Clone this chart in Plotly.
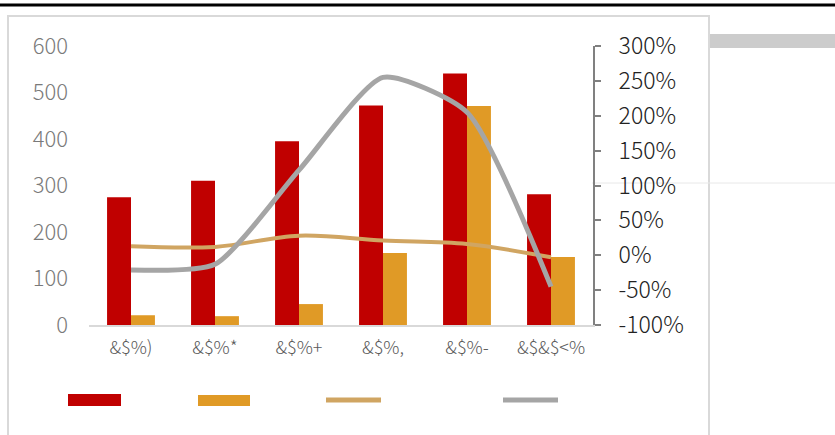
import plotly.graph_objects as go

categories = ["&$%)", "&$%*", "&$%+", "&$%,", "&$%-", "&$&$<%"]
red_values = [275, 310, 395, 472, 541, 281]
orange_values = [21, 19, 45, 155, 471, 146]
tan_growth = [0.13, 0.12, 0.28, 0.21, 0.16, -0.03]
gray_growth = [-0.21, -0.13, 1.22, 2.55, 2.05, -0.45]
left_ticks = [0, 100, 200, 300, 400, 500, 600]
right_ticks = [-1.0, -0.5, 0.0, 0.5, 1.0, 1.5, 2.0, 2.5, 3.0]
right_labels = ["-100%", "-50%", "0%", "50%", "100%", "150%", "200%", "250%", "300%"]

RED = "#C00000"
ORANGE = "#E09A26"
TAN = "#D0A562"
GRAY = "#A5A5A5"

W, H = 835, 435
def px(x): return x / W
def py(y): return 1 - y / H

fig = go.Figure()
fig.add_trace(go.Bar(x=categories, y=red_values, marker=dict(color=RED, line=dict(width=0)), showlegend=False))
fig.add_trace(go.Bar(x=categories, y=orange_values, marker=dict(color=ORANGE, line=dict(width=0)), showlegend=False))
fig.add_trace(go.Scatter(x=categories, y=tan_growth, yaxis="y2", mode="lines",
                         line=dict(color=TAN, width=4, shape="spline", smoothing=1.0), showlegend=False))
fig.add_trace(go.Scatter(x=categories, y=gray_growth, yaxis="y2", mode="lines",
                         line=dict(color=GRAY, width=5, shape="spline", smoothing=0.6), showlegend=False))

shapes = [
    dict(type="line", xref="paper", yref="paper", x0=0, x1=1, y0=py(5), y1=py(5),
         line=dict(color="#000000", width=3)),
    dict(type="rect", xref="paper", yref="paper", x0=px(8), x1=px(709), y0=py(445), y1=py(16),
         line=dict(color="#D9D9D9", width=2), layer="below"),
    dict(type="rect", xref="paper", yref="paper", x0=px(710), x1=1, y0=py(48), y1=py(34),
         fillcolor="#CCCCCC", line=dict(width=0)),
    dict(type="line", xref="paper", yref="paper", x0=px(592), x1=1, y0=py(183), y1=py(183),
         line=dict(color="#E8E8E8", width=1), layer="below"),
    dict(type="rect", xref="paper", yref="paper", x0=px(68), x1=px(121), y0=py(406), y1=py(394),
         fillcolor=RED, line=dict(width=0)),
    dict(type="rect", xref="paper", yref="paper", x0=px(198), x1=px(250), y0=py(406), y1=py(395),
         fillcolor=ORANGE, line=dict(width=0)),
    dict(type="line", xref="paper", yref="paper", x0=px(326), x1=px(381), y0=py(400), y1=py(400),
         line=dict(color=TAN, width=5)),
    dict(type="line", xref="paper", yref="paper", x0=px(503), x1=px(558), y0=py(400), y1=py(400),
         line=dict(color=GRAY, width=5)),
]

FONT = "Noto Sans CJK SC"
fig.update_layout(
    template="none",
    width=W, height=H, autosize=False,
    margin=dict(l=0, r=0, t=0, b=0, pad=0),
    paper_bgcolor="white", plot_bgcolor="rgba(0,0,0,0)",
    barmode="group", bargap=0.43, bargroupgap=0.0,
    showlegend=False,
    shapes=shapes,
    xaxis=dict(domain=[px(89), px(593)], showgrid=False, zeroline=False, automargin=False,
               showline=True, linecolor="#D9D9D9", linewidth=1.5,
               ticks="", tickfont=dict(family=FONT, size=18, color="#5A5A5A", weight=300),
               ticklabelstandoff=6),
    yaxis=dict(domain=[py(325), py(46)], range=[0, 600], tickvals=left_ticks, automargin=False,
               showgrid=False, zeroline=False, showline=False, ticks="",
               tickfont=dict(family=FONT, size=22, color="#7A7A7A", weight=300),
               ticklabelstandoff=20),
    yaxis2=dict(overlaying="y", side="right", anchor="x", range=[-1, 3],
                tickvals=right_ticks, ticktext=right_labels,
                showgrid=False, zeroline=False, automargin=False,
                showline=True, linecolor="#808080", linewidth=2,
                ticks="outside", ticklen=6, tickcolor="#808080", tickwidth=1.5,
                tickfont=dict(family=FONT, size=23, color="#222222", weight=300),
                ticklabelstandoff=13),
)

post = ("document.body.style.margin='0';"
        "var d=document.getElementById('{plot_id}');"
        "d.style.position='absolute';d.style.left='0px';d.style.top='0px';")
fig.write_html("out.html", post_script=post, config={"displayModeBar": False})
